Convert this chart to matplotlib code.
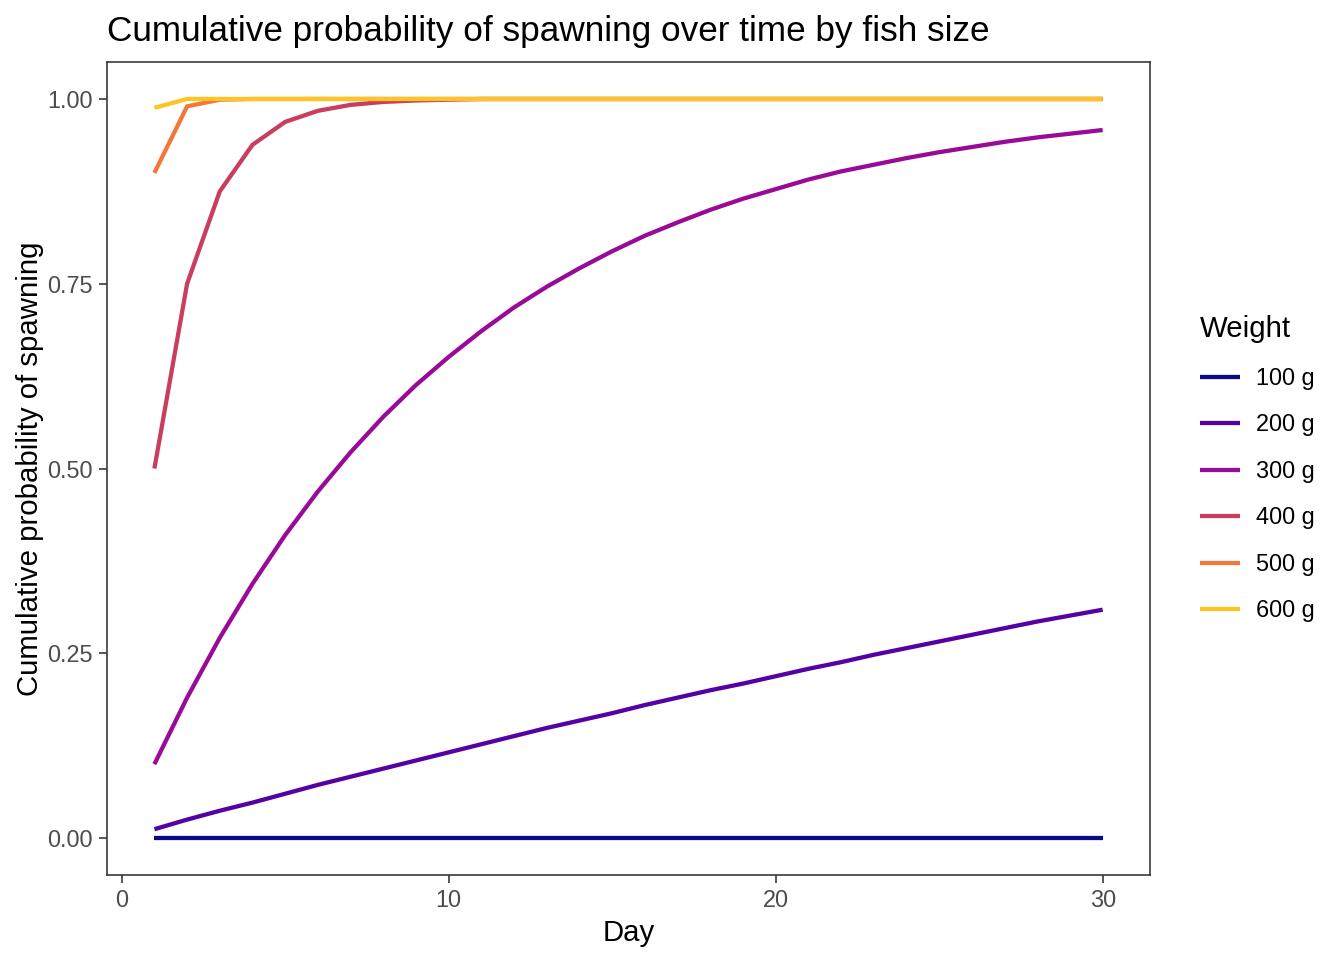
import numpy as np
import matplotlib.pyplot as plt

# dias y probabilidad acumulada de desove
days = np.arange(1, 31)
weights = ['100 g', '200 g', '300 g', '400 g', '500 g', '600 g']
colors = ['#0D0887', '#5402A3', '#990A98', '#C93E5E', '#F0793A', '#FCC524']

p100 = [0.0] * 30
p200 = [0.012, 0.025, 0.037, 0.048, 0.060, 0.072, 0.083, 0.094, 0.105, 0.116,
        0.127, 0.138, 0.149, 0.159, 0.169, 0.180, 0.190, 0.200, 0.209, 0.219,
        0.229, 0.238, 0.248, 0.257, 0.266, 0.275, 0.284, 0.293, 0.301, 0.309]
p300 = [0.100, 0.190, 0.271, 0.344, 0.410, 0.469, 0.522, 0.570, 0.613, 0.651,
        0.686, 0.718, 0.746, 0.771, 0.794, 0.815, 0.833, 0.850, 0.865, 0.878,
        0.891, 0.902, 0.911, 0.920, 0.928, 0.935, 0.942, 0.948, 0.953, 0.958]
p400 = [0.500, 0.750, 0.875, 0.938, 0.969, 0.984, 0.992, 0.996, 0.998, 0.999] + [1.0] * 20
p500 = [0.900, 0.990, 0.999] + [1.0] * 27
p600 = [0.988] + [1.0] * 29
series = [p100, p200, p300, p400, p500, p600]

plt.rcParams['font.family'] = ['Liberation Sans', 'DejaVu Sans']
fig = plt.figure(figsize=(7, 5), dpi=192)
ax = fig.add_axes([0.0796, 0.0885, 0.7761, 0.8469])

for w, c, vals in zip(weights, colors, series):
    ax.plot(days, vals, color=c, lw=1.6, label=w, solid_capstyle='butt')

ax.set_xlim(-0.45, 31.45)
ax.set_ylim(-0.05, 1.05)
ax.set_xticks([0, 10, 20, 30])
ax.set_yticks([0, 0.25, 0.5, 0.75, 1.0])
ax.set_yticklabels(['0.00', '0.25', '0.50', '0.75', '1.00'])
ax.tick_params(labelsize=8.8, labelcolor='#4D4D4D', color='#333333',
               length=3, width=0.6, pad=2.2)
for s in ax.spines.values():
    s.set_color('#333333')
    s.set_linewidth(0.6)

ax.set_xlabel('Day', fontsize=11, labelpad=2.5)
ax.set_ylabel('Cumulative probability of spawning', fontsize=11, labelpad=1.5)
ax.set_title('Cumulative probability of spawning over time by fish size',
             fontsize=13.2, loc='left', pad=8)

leg = ax.legend(title='Weight', loc='center left', bbox_to_anchor=(1.048, 0.5),
                frameon=False, fontsize=8.8, title_fontsize=11,
                borderaxespad=0, borderpad=0,
                handlelength=1.7, labelspacing=1.0, handletextpad=0.7)
leg._legend_box.align = 'left'
leg._legend_box.sep = 9

fig.savefig('out.png', dpi=192)
